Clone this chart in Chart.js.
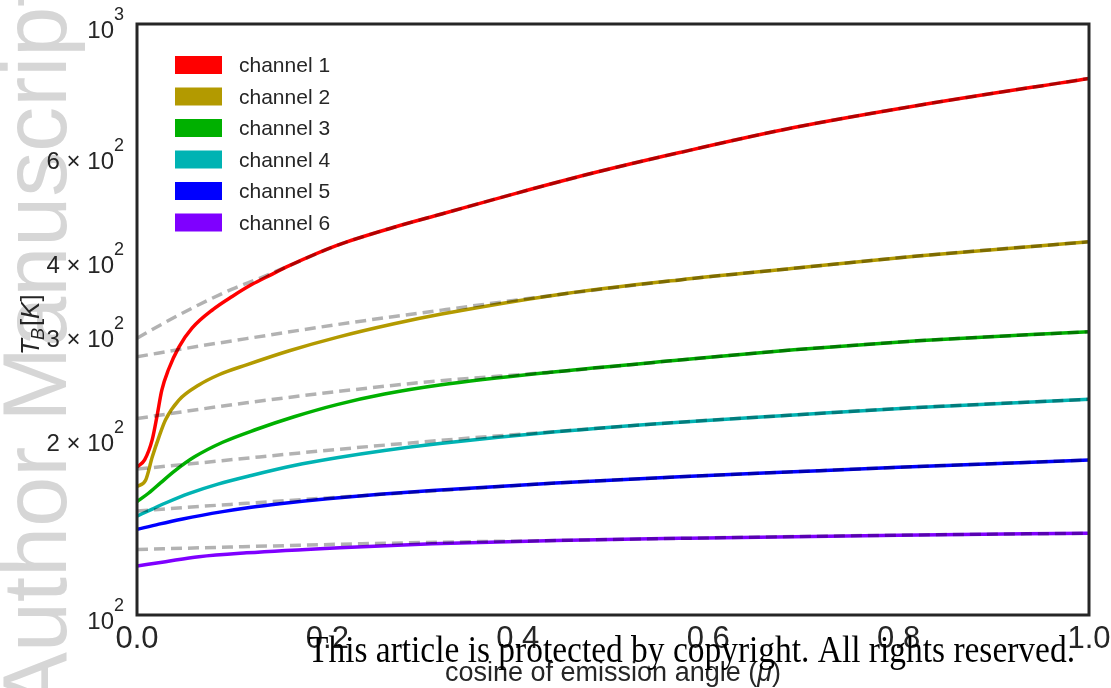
<!DOCTYPE html>
<html>
<head>
<meta charset="utf-8">
<script src="https://cdn.jsdelivr.net/npm/chart.js@4.4.1/dist/chart.umd.min.js"></script>
<style>
  html, body { margin: 0; padding: 0; background: #fff; overflow: hidden; }
  #wrap { position: relative; width: 1111px; height: 688px; }
</style>
</head>
<body>
<div id="wrap"><canvas id="c" width="1111" height="688"></canvas></div>
<script>
// Brightness temperature T_B [K] versus cosine of emission angle (mu), six channels.
// Solid: model curves. Dashed grey: limb-darkening fits.
const channelNames  = ['channel 1', 'channel 2', 'channel 3', 'channel 4', 'channel 5', 'channel 6'];
const channelColors = ['#ff0000', '#b39a00', '#00b000', '#00b3b3', '#0000ff', '#7f00ff'];

const ch1 = [[0,178],[0.008,183],[0.016,198],[0.021,217],[0.026,240],[0.033,260],[0.044,284],[0.058,306],[0.08,329],[0.1,346],[0.12,362],[0.14,376],[0.16,390],[0.21,422],[0.27,453],[0.32,477],[0.4,518],[0.48,560],[0.57,606],[0.69,668],[0.82,728],[1.0,809]];
const ch2 = [[0,165],[0.009,169],[0.016,185],[0.023,200],[0.03,214],[0.044,231],[0.065,245],[0.086,255],[0.115,265],[0.16,280],[0.21,295],[0.27,311],[0.32,323],[0.44,348],[0.57,369],[0.69,386],[0.82,405],[1.0,428]];
const ch3 = [[0,155.5],[0.012,160.7],[0.025,167.5],[0.04,175.5],[0.06,185],[0.09,196],[0.125,206],[0.165,216.5],[0.21,227],[0.26,236.5],[0.318,245],[0.44,258],[0.57,270],[0.69,281],[0.82,291],[1.0,301.6]];
const ch4 = [[0,147],[0.016,151.1],[0.03,154.7],[0.055,160.6],[0.085,166.5],[0.12,172.2],[0.165,179],[0.21,184.5],[0.26,189.8],[0.318,195],[0.44,204.2],[0.57,212],[0.69,218],[0.82,224.5],[1.0,231.7]];
const ch5 = [[0,139.6],[0.023,142.5],[0.048,145.4],[0.09,149.6],[0.12,152.2],[0.15,154.3],[0.2,157.3],[0.255,160.1],[0.31,162.5],[0.44,167.2],[0.57,171.3],[0.69,174.7],[0.8,177.8],[1.0,182.9]];
const ch6 = [[0,121],[0.03,123.1],[0.065,125.5],[0.115,127.4],[0.213,130],[0.31,132],[0.44,133.7],[0.57,134.8],[0.8,136.5],[1.0,137.5]];

const fit1 = [[0,294],[0.03,313],[0.065,335],[0.1,356],[0.13,372],[0.16,390],[0.21,422],[0.27,453],[0.32,477],[0.4,518],[0.48,560],[0.57,606],[0.69,668],[0.82,728],[1.0,809]];
const fit2 = [[0,273.5],[0.065,285],[0.115,293.5],[0.21,310],[0.32,328],[0.44,348],[0.57,369],[0.69,386],[0.82,405],[1.0,428]];
const fit3 = [[0,215],[0.065,222.8],[0.115,228.6],[0.21,238.8],[0.31,248.4],[0.44,258],[0.57,270],[0.69,281],[0.82,291],[1.0,301.6]];
const fit4 = [[0,176.6],[0.065,180.8],[0.115,184.2],[0.21,190.6],[0.318,197.4],[0.44,204.4],[0.57,212],[0.69,218],[0.82,224.5],[1.0,231.7]];
const fit5 = [[0,150],[0.065,152.6],[0.115,154.5],[0.213,158.3],[0.318,162.4],[0.44,167.2],[0.57,171.3],[0.69,174.7],[0.8,177.8],[1.0,182.9]];
const fit6 = [[0,129.1],[0.065,129.9],[0.12,130.6],[0.21,131.7],[0.32,132.8],[0.44,133.7],[0.57,134.8],[0.8,136.5],[1.0,137.5]];

const xTickValues = [0, 0.2, 0.4, 0.6, 0.8, 1.0];
const xTickLabels = ['0.0', '0.2', '0.4', '0.6', '0.8', '1.0'];
const yTickValues = [100, 200, 300, 400, 600, 1000];
const yTickLabels = ['10^2', '2 × 10^2', '3 × 10^2', '4 × 10^2', '6 × 10^2', '10^3'];

const xTitle = 'cosine of emission angle (';
const xTitleSymbol = 'μ';
const noticeText = 'This article is protected by copyright. All rights reserved.';
const watermarkText = 'Author Manuscript';

const channels = [ch1, ch2, ch3, ch4, ch5, ch6];
const fits = [fit1, fit2, fit3, fit4, fit5, fit6];
const toPoints = arr => arr.map(p => ({ x: p[0], y: p[1] }));

const datasets = [];
channels.forEach((d, i) => datasets.push({
  label: channelNames[i], data: toPoints(d), borderColor: channelColors[i],
  borderWidth: 3.5, pointRadius: 0, fill: false, cubicInterpolationMode: 'monotone', order: 1
}));
fits.forEach((d, i) => datasets.push({
  label: channelNames[i] + ' fit', data: toPoints(d), borderColor: 'rgba(0,0,0,0.3)',
  borderWidth: 3.5, borderDash: [11, 6], pointRadius: 0, fill: false,
  cubicInterpolationMode: 'monotone', order: 0
}));

const SANS = '"Liberation Sans", Arial, sans-serif';
const INK = '#262626';

const decorations = {
  id: 'decorations',
  beforeDraw(chart) {
    const ctx = chart.ctx;
    ctx.save();
    ctx.fillStyle = '#fff';
    ctx.fillRect(0, 0, chart.width, chart.height);
    // vertical watermark along the left edge
    ctx.translate(66, 712);
    ctx.rotate(-Math.PI / 2);
    ctx.font = '90px ' + SANS;
    ctx.fillStyle = '#d6d6d6';
    ctx.textBaseline = 'alphabetic';
    ctx.fillText(watermarkText, 0, 0);
    ctx.restore();
  },
  afterDraw(chart) {
    const ctx = chart.ctx;
    const a = chart.chartArea;
    const xs = chart.scales.x, ys = chart.scales.y;
    ctx.save();

    // frame
    ctx.strokeStyle = INK;
    ctx.lineWidth = 3;
    ctx.strokeRect(a.left, a.top, a.right - a.left, a.bottom - a.top);

    // y tick labels with superscript exponents
    ctx.fillStyle = INK;
    ctx.textBaseline = 'alphabetic';
    ctx.textAlign = 'left';
    yTickValues.forEach((v, i) => {
      const py = ys.getPixelForValue(v);
      const [base, exp] = yTickLabels[i].split('^');
      ctx.font = '18px ' + SANS;
      const ew = ctx.measureText(exp).width;
      ctx.font = '24px ' + SANS;
      const bw = ctx.measureText(base).width;
      const right = 124;
      ctx.fillText(base, right - ew - bw, py + 14);
      ctx.font = '18px ' + SANS;
      ctx.fillText(exp, right - ew, py - 4);
    });

    // x tick labels
    ctx.font = '31px ' + SANS;
    ctx.textAlign = 'center';
    xTickValues.forEach((v, i) => {
      ctx.fillText(xTickLabels[i], xs.getPixelForValue(v), 648);
    });

    // x axis title
    const tf = '27px ' + SANS;
    ctx.font = tf;
    const w1 = ctx.measureText(xTitle).width;
    ctx.font = 'italic ' + tf;
    const w2 = ctx.measureText(xTitleSymbol).width;
    ctx.font = tf;
    const w3 = ctx.measureText(')').width;
    const tx = (a.left + a.right) / 2 - (w1 + w2 + w3) / 2;
    ctx.textAlign = 'left';
    ctx.fillText(xTitle, tx, 681);
    ctx.font = 'italic ' + tf;
    ctx.fillText(xTitleSymbol, tx + w1, 681);
    ctx.font = tf;
    ctx.fillText(')', tx + w1 + w2, 681);

    // y axis title: T_B [K]
    ctx.save();
    ctx.translate(39, 355);
    ctx.rotate(-Math.PI / 2);
    ctx.textAlign = 'left';
    ctx.font = 'italic 26px ' + SANS;
    ctx.fillText('T', 0, 0);
    let off = ctx.measureText('T').width;
    ctx.font = 'italic 18px ' + SANS;
    ctx.fillText('B', off - 1, 5);
    off += ctx.measureText('B').width + 1;
    ctx.font = '26px ' + SANS;
    ctx.fillText('[', off, 0);
    off += ctx.measureText('[').width;
    ctx.font = 'italic 26px ' + SANS;
    ctx.fillText('K', off, 0);
    off += ctx.measureText('K').width;
    ctx.font = '26px ' + SANS;
    ctx.fillText(']', off, 0);
    ctx.restore();

    // legend
    ctx.font = '21px ' + SANS;
    ctx.textAlign = 'left';
    channelNames.forEach((name, i) => {
      const top = 56 + i * 31.5;
      ctx.fillStyle = channelColors[i];
      ctx.fillRect(175, top, 47, 18);
      ctx.fillStyle = INK;
      ctx.fillText(name, 239, top + 16);
    });

    // copyright notice
    ctx.save();
    ctx.font = '38px "Liberation Serif", serif';
    ctx.fillStyle = '#000';
    const nw = ctx.measureText(noticeText).width;
    ctx.translate(308, 662);
    ctx.scale(767 / nw, 1);
    ctx.textAlign = 'left';
    ctx.fillText(noticeText, 0, 0);
    ctx.restore();

    ctx.restore();
  }
};

new Chart(document.getElementById('c'), {
  type: 'line',
  data: { datasets },
  options: {
    responsive: false,
    animation: false,
    devicePixelRatio: 1,
    layout: { padding: { left: 137, right: 22, top: 24, bottom: 73 } },
    plugins: { legend: { display: false }, tooltip: { enabled: false } },
    elements: { line: { borderCapStyle: 'butt', borderJoinStyle: 'round' } },
    scales: {
      x: { type: 'linear', min: 0, max: 1, display: false },
      y: { type: 'logarithmic', min: 100, max: 1000, display: false }
    }
  },
  plugins: [decorations]
});
</script>
</body>
</html>
